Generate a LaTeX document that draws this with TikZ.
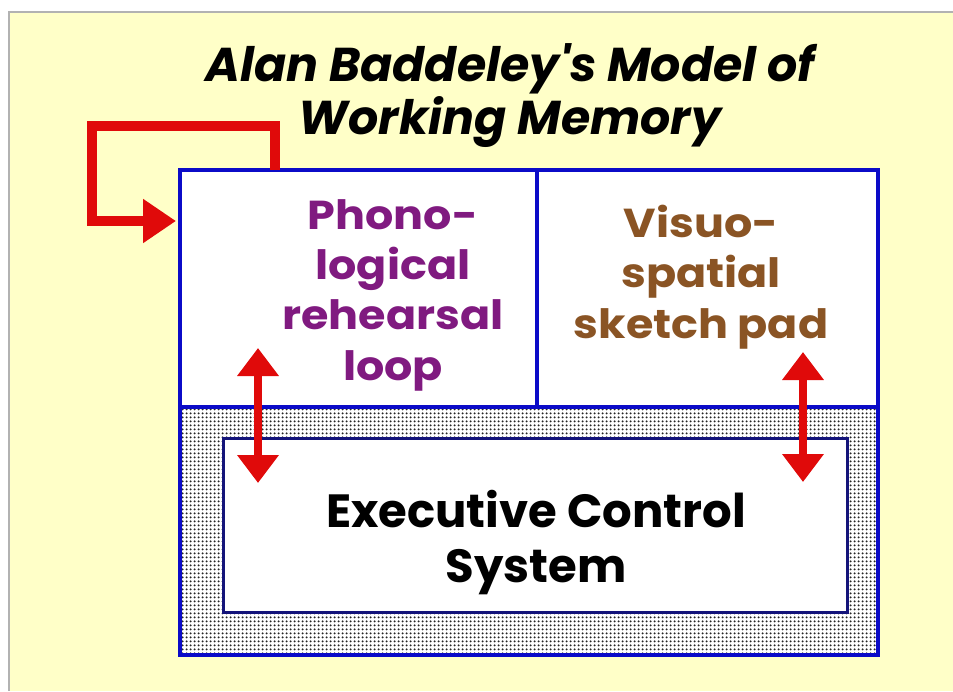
\documentclass[tikz,border=0pt]{standalone}
\usepackage{fontspec}
\usepackage{tikz}
\usetikzlibrary{arrows.meta, patterns.meta}
\newfontfamily\gothic{Poppins}
\newfontfamily\gothicwide{Poppins}[FakeStretch=1.1]
\definecolor{bgcol}{HTML}{FFFFC8}
\definecolor{bcol}{HTML}{0B0BC8}
\definecolor{ncol}{HTML}{14147A}
\definecolor{rcol}{HTML}{E00A0A}
\definecolor{pcol}{HTML}{801A80}
\definecolor{scol}{HTML}{8A5424}
\tikzdeclarepattern{
  name=finedots,
  type=uncolored,
  bottom left={(0pt,0pt)},
  top right={(2.3pt,2.3pt)},
  tile size={(2.3pt,2.3pt)},
  code={\fill (1.15pt,1.15pt) circle [radius=0.72pt];}
}

\begin{document}
\begin{tikzpicture}[x=0.02cm, y=-0.02cm,
  lbl/.style={font=\gothicwide\bfseries\fontsize{23}{28.5}\selectfont, align=center, anchor=base},
  loopline/.style={rcol, line width=0.2cm, -{Triangle[length=0.66cm, width=0.84cm]}},
  twoway/.style={rcol, line width=0.16cm, {Triangle[length=0.56cm, width=0.8cm]}-{Triangle[length=0.56cm, width=0.8cm]}}]
\useasboundingbox (0,0) rectangle (953,691);
% page and frame
\fill[white] (0,0) rectangle (953,691);
\fill[bgcol] (9,12) rectangle (953,691);
\draw[gray!60, line width=0.04cm] (9,691) -- (9,12) -- (953,12);
\node[font=\gothic\bfseries\itshape\fontsize{27}{28.5}\selectfont, align=center, anchor=base]
  (title) at (510,134) {Alan Baddeley's Model of\\Working Memory};
% model boxes
\fill[white] (180,170) rectangle (878,655);
\fill[pattern=finedots, pattern color=black!85] (180,407) rectangle (878,655);
\draw[bcol, line width=0.08cm] (180,170) rectangle (878,655);
\draw[bcol, line width=0.07cm] (180,407) -- (878,407);
\draw[bcol, line width=0.07cm] (537,170) -- (537,407);
\draw[ncol, line width=0.06cm, fill=white] (223,438) rectangle (847,612);
\node[lbl, pcol] (phono) at (393,380) {Phono-\\logical\\rehearsal\\loop};
\node[lbl, scol] (visuo) at (701,338) {Visuo-\\spatial\\sketch pad};
\node[lbl, black, font=\gothic\bfseries\fontsize{26.5}{31.3}\selectfont]
  (exec) at (536,582) {Executive Control\\System};
% arrows
\coordinate (loopout) at (275,170);
\coordinate (loopcorner) at (92,126);
\coordinate (loopin) at (176,221);
\draw[loopline] (loopout) |- (loopcorner) |- (loopin);
\coordinate (phonotop) at (258,348);
\coordinate (phonobot) at (258,483);
\coordinate (visuotop) at (803,352);
\coordinate (visuobot) at (803,482);
\draw[twoway] (phonotop) -- (phonobot);
\draw[twoway] (visuotop) -- (visuobot);
\end{tikzpicture}
\end{document}
